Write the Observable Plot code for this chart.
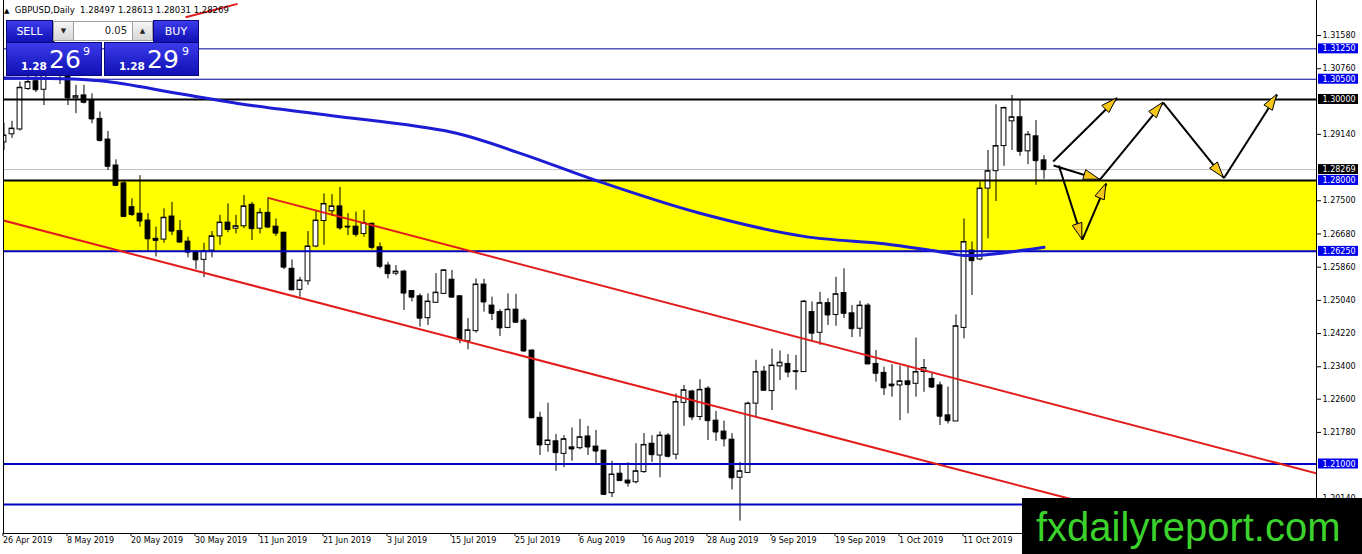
<!DOCTYPE html>
<html>
<head>
<meta charset="utf-8">
<script src="https://cdn.jsdelivr.net/npm/d3@7"></script>
<script src="https://cdn.jsdelivr.net/npm/@observablehq/plot@0.6"></script>
<style>
  body { margin: 0; background: #fff; font-family: "DejaVu Sans", sans-serif; }
  #wrap { position: relative; width: 1362px; height: 554px; overflow: hidden; }
  .abs { position: absolute; box-sizing: border-box; }
  .blue { background: linear-gradient(#3b3bec, #1010b4); color: #fff; border: 1px solid #08087a; }
  .spin { background: linear-gradient(#f6f6f6, #d6d6d6); border: 1px solid #a0a0a0; color: #222; font-size: 7px; text-align: center; line-height: 18px; }
  .lot { background: #fff; border: 1px solid #a0a0a0; color: #222; font-size: 10px; text-align: right; padding-right: 5px; line-height: 18px; }
  .btn { font-size: 11px; text-align: center; line-height: 21px; }
  .btn::after { content: ""; position: absolute; left: 4px; right: 4px; bottom: -1px; height: 1px; background: #9fa0ff; }
  .s { position: absolute; font-size: 10.5px; font-weight: 600; line-height: 10.5px; }
  .b { position: absolute; font-size: 25px; line-height: 25px; }
  .p { position: absolute; font-size: 11px; line-height: 11px; }
  #head { left: 4px; top: 6px; font-size: 8.5px; line-height: 8.5px; color: #000; white-space: nowrap; }
  #mark { left: 1022px; top: 498px; width: 340px; height: 56px; background: #000; }
  #mark span { position: absolute; left: 14px; top: 9px; font-family: "Liberation Sans", Arial, sans-serif; font-size: 40px; line-height: 40px; color: #3cd22c; }
</style>
</head>
<body>
<div id="wrap">
  <div id="chart"></div>
  <div id="head" class="abs"><span style="font-size:7px">▲</span>&nbsp; GBPUSD,Daily&nbsp; 1.28497 1.28613 1.28031 1.28269</div>
  <div class="abs blue btn" style="left:6px;top:20px;width:47px;height:23px">SELL</div>
  <div class="abs spin" style="left:53px;top:21px;width:21px;height:20px">▼</div>
  <div class="abs lot" style="left:73px;top:21px;width:60px;height:20px">0.05</div>
  <div class="abs spin" style="left:132px;top:21px;width:21px;height:20px">▲</div>
  <div class="abs blue btn" style="left:153px;top:20px;width:46px;height:23px">BUY</div>
  <div class="abs blue" style="left:6px;top:42px;width:96px;height:34px">
    <span class="s" style="left:14px;top:18px">1.28</span><span class="b" style="left:42px;top:4px">26</span><span class="p" style="left:76px;top:3px">9</span>
  </div>
  <div class="abs blue" style="left:104px;top:42px;width:95px;height:34px">
    <span class="s" style="left:14px;top:18px">1.28</span><span class="b" style="left:42px;top:4px">29</span><span class="p" style="left:77px;top:3px">9</span>
  </div>
  <div id="mark" class="abs"><span>fxdailyreport.com</span></div>
</div>
<script>
// bar index 0 = 26 Apr 2019, one bar per trading day
const tickIdx = [0, 8, 16, 24, 32, 40, 48, 56, 64, 72, 80, 88, 96, 104, 112, 120];
const dateLabels = ["26 Apr 2019", "8 May 2019", "20 May 2019", "30 May 2019", "11 Jun 2019", "21 Jun 2019",
  "3 Jul 2019", "15 Jul 2019", "25 Jul 2019", "6 Aug 2019", "16 Aug 2019", "28 Aug 2019", "9 Sep 2019",
  "19 Sep 2019", "1 Oct 2019", "11 Oct 2019"];

const opens = [
  1.2894, 1.2914, 1.2926, 1.3026, 1.3045, 1.3024, 1.3153, 1.3120, 1.3085, 1.3003,
  1.3010, 1.2996, 1.2952, 1.2901, 1.2837, 1.2793, 1.2734, 1.2718, 1.2701, 1.2656,
  1.2654, 1.2711, 1.2675, 1.2649, 1.2623, 1.2604, 1.2627, 1.2662, 1.2696, 1.2681,
  1.2687, 1.2740, 1.2681, 1.2720, 1.2686, 1.2671, 1.2582, 1.2530, 1.2551, 1.2637,
  1.2700, 1.2724, 1.2736, 1.2686, 1.2686, 1.2668, 1.2693, 1.2635, 1.2590, 1.2570,
  1.2575, 1.2527, 1.2514, 1.2460, 1.2498, 1.2520, 1.2555, 1.2514, 1.2403, 1.2428,
  1.2543, 1.2491, 1.2475, 1.2436, 1.2481, 1.2454, 1.2380, 1.2214, 1.2147, 1.2156,
  1.2125, 1.2141, 1.2139, 1.2168, 1.2143, 1.2133, 1.2028, 1.2076, 1.2059, 1.2055,
  1.2080, 1.2150, 1.2121, 1.2170, 1.2123, 1.2251, 1.2279, 1.2216, 1.2286, 1.2207,
  1.2180, 1.2160, 1.2066, 1.2078, 1.2249, 1.2328, 1.2280, 1.2341, 1.2347, 1.2329,
  1.2327, 1.2475, 1.2424, 1.2497, 1.2468, 1.2522, 1.2472, 1.2434, 1.2491, 1.2347,
  1.2325, 1.2296, 1.2294, 1.2304, 1.2298, 1.2327, 1.2310, 1.2294, 1.2220, 1.2205,
  1.2436, 1.2627, 1.2605, 1.2780, 1.2823, 1.2885, 1.2946, 1.2956, 1.2872, 1.2909,
  1.28497];
const highs = [
  1.2941, 1.2946, 1.3043, 1.3070, 1.3070, 1.3176, 1.3175, 1.3135, 1.3110, 1.3035,
  1.3035, 1.3014, 1.2969, 1.2921, 1.2851, 1.2798, 1.2755, 1.2812, 1.2718, 1.2685,
  1.2730, 1.2746, 1.2701, 1.2660, 1.2627, 1.2645, 1.2674, 1.2714, 1.2742, 1.2714,
  1.2763, 1.2746, 1.2730, 1.2757, 1.2705, 1.2672, 1.2604, 1.2561, 1.2674, 1.2726,
  1.2767, 1.2765, 1.2783, 1.2718, 1.2722, 1.2726, 1.2695, 1.2646, 1.2598, 1.2590,
  1.2578, 1.2527, 1.2520, 1.2520, 1.2570, 1.2580, 1.2578, 1.2516, 1.2459, 1.2557,
  1.2556, 1.2512, 1.2481, 1.2520, 1.2519, 1.2459, 1.2382, 1.2228, 1.2250, 1.2173,
  1.2170, 1.2189, 1.2210, 1.2193, 1.2183, 1.2133, 1.2107, 1.2099, 1.2103, 1.2150,
  1.2175, 1.2170, 1.2179, 1.2175, 1.2273, 1.2294, 1.2282, 1.2308, 1.2291, 1.2230,
  1.2206, 1.2175, 1.2104, 1.2253, 1.2356, 1.2341, 1.2384, 1.2379, 1.2370, 1.2368,
  1.2504, 1.2500, 1.2524, 1.2508, 1.2561, 1.2582, 1.2491, 1.2502, 1.2496, 1.2380,
  1.2339, 1.2345, 1.2342, 1.2342, 1.2411, 1.2358, 1.2323, 1.2302, 1.2290, 1.2468,
  1.2705, 1.2648, 1.2796, 1.2874, 1.2987, 1.2981, 1.3010, 1.2998, 1.2921, 1.2948,
  1.28613];
const lows = [
  1.2874, 1.2904, 1.2922, 1.3022, 1.3017, 1.2985, 1.3100, 1.3037, 1.2985, 1.2965,
  1.2989, 1.2940, 1.2895, 1.2825, 1.2785, 1.2709, 1.2711, 1.2685, 1.2623, 1.2611,
  1.2645, 1.2664, 1.2645, 1.2609, 1.2580, 1.2560, 1.2609, 1.2640, 1.2671, 1.2668,
  1.2681, 1.2652, 1.2668, 1.2681, 1.2662, 1.2580, 1.2528, 1.2512, 1.2541, 1.2634,
  1.2640, 1.2711, 1.2677, 1.2664, 1.2660, 1.2660, 1.2629, 1.2582, 1.2557, 1.2565,
  1.2479, 1.2500, 1.2438, 1.2442, 1.2498, 1.2519, 1.2510, 1.2397, 1.2382, 1.2423,
  1.2475, 1.2454, 1.2415, 1.2434, 1.2448, 1.2376, 1.2213, 1.2121, 1.2129, 1.2082,
  1.2091, 1.2107, 1.2135, 1.2121, 1.2096, 1.2022, 1.2017, 1.2058, 1.2043, 1.2051,
  1.2077, 1.2104, 1.2066, 1.2115, 1.2110, 1.2193, 1.2207, 1.2207, 1.2158, 1.2156,
  1.2142, 1.2036, 1.1959, 1.2077, 1.2216, 1.2280, 1.2232, 1.2306, 1.2313, 1.2282,
  1.2326, 1.2401, 1.2393, 1.2442, 1.2440, 1.2459, 1.2412, 1.2413, 1.2346, 1.2302,
  1.2269, 1.2265, 1.2207, 1.2224, 1.2265, 1.2277, 1.2286, 1.2195, 1.2199, 1.2205,
  1.2409, 1.2516, 1.2602, 1.2656, 1.2748, 1.2835, 1.2874, 1.2860, 1.2839, 1.2788,
  1.28031];
const closes = [
  1.2911, 1.2928, 1.3029, 1.3043, 1.3024, 1.3153, 1.3120, 1.3085, 1.3004, 1.3008,
  1.2993, 1.2952, 1.2899, 1.2835, 1.2788, 1.2711, 1.2716, 1.2700, 1.2656, 1.2652,
  1.2708, 1.2675, 1.2648, 1.2623, 1.2604, 1.2625, 1.2662, 1.2696, 1.2679, 1.2687,
  1.2736, 1.2681, 1.2720, 1.2685, 1.2670, 1.2586, 1.2530, 1.2553, 1.2637, 1.2701,
  1.2742, 1.2736, 1.2683, 1.2685, 1.2667, 1.2695, 1.2635, 1.2588, 1.2570, 1.2575,
  1.2522, 1.2512, 1.2460, 1.2501, 1.2523, 1.2578, 1.2512, 1.2407, 1.2430, 1.2543,
  1.2500, 1.2472, 1.2436, 1.2481, 1.2450, 1.2379, 1.2214, 1.2147, 1.2158, 1.2128,
  1.2161, 1.2137, 1.2166, 1.2142, 1.2132, 1.2025, 1.2074, 1.2059, 1.2053, 1.2082,
  1.2147, 1.2123, 1.2170, 1.2119, 1.2253, 1.2282, 1.2216, 1.2283, 1.2207, 1.2179,
  1.2162, 1.2066, 1.2082, 1.2249, 1.2327, 1.2282, 1.2343, 1.2350, 1.2327, 1.2328,
  1.2501, 1.2423, 1.2497, 1.2468, 1.2519, 1.2472, 1.2434, 1.2491, 1.2347, 1.2324,
  1.2288, 1.2293, 1.2304, 1.2296, 1.2327, 1.2337, 1.2290, 1.2218, 1.2207, 1.2440,
  1.2648, 1.2602, 1.2780, 1.2823, 1.2885, 1.2979, 1.2956, 1.2872, 1.2913, 1.2849,
  1.28269];

// moving average: [bar, price]
const maIdx =   [0, 12, 22, 31, 41, 56, 65, 74, 87, 100, 110, 116, 120, 123, 130];
const maPrice = [1.3053, 1.3046, 1.3014, 1.2985, 1.2960, 1.2919, 1.2864, 1.2800, 1.2719, 1.2662, 1.2644, 1.2627, 1.2615, 1.2617, 1.2635];

// horizontal levels
const thinBlueLevels = [1.3125, 1.3050];
const thickBlueLevels = [1.2625, 1.2100, 1.2000];
const blackLevels = [1.3000, 1.2800];
const zoneLow = 1.2625, zoneHigh = 1.2800;
const lastPrice = 1.28269;

// price axis ticks and tagged prices
const yTicks = [1.3158, 1.3076, 1.2914, 1.2750, 1.2668, 1.2586, 1.2504, 1.2422, 1.2340, 1.2260, 1.2178, 1.2014];
const blueTags = [1.3125, 1.3050, 1.2800, 1.2625, 1.2100];
const blackTags = [1.3000, 1.28269];

// red trend lines: [bar1, price1, bar2, price2]
const trendLines = [
  [-1, 1.2706, 136, 1.2000],
  [33, 1.2757, 165, 1.2072],
  [22.7, 1.3203, 29.2, 1.3236]
];
// projected path arrows: [bar1, price1, bar2, price2]
const arrowSegs = [
  [131.15, 1.2847, 139.15, 1.3003],
  [131.2, 1.2837, 137.0, 1.2802],
  [131.85, 1.2837, 134.8, 1.2654],
  [134.8, 1.2654, 137.8, 1.2792],
  [137.0, 1.2802, 144.9, 1.2992],
  [144.9, 1.2992, 152.5, 1.2806],
  [152.5, 1.2806, 159.15, 1.3012]
];

const candles = opens.map((o, i) => ({i, open: o, high: highs[i], low: lows[i], close: closes[i]}));
const ma = maIdx.map((i, k) => ({i, p: maPrice[k]}));
const seg = a => ({x1: a[0], y1: a[1], x2: a[2], y2: a[3]});
const trends = trendLines.map(seg);
const arrows = arrowSegs.map(seg);
const labelOf = new Map(tickIdx.map((t, k) => [t, dateLabels[k]]));

const xMin = -0.06, xMax = 164.06;
const yMin = 1.19284, yMax = 1.32444;
const hw = 0.3; // half body width in bars

const chart = Plot.plot({
  width: 1362,
  height: 554,
  marginLeft: 3,
  marginRight: 46,
  marginTop: 0,
  marginBottom: 21,
  style: {fontFamily: "DejaVu Sans", fontSize: "8px", color: "#000", background: "#fff"},
  x: {type: "linear", domain: [xMin, xMax], axis: null},
  y: {type: "linear", domain: [yMin, yMax], axis: null},
  marks: [
    Plot.rect([{lo: zoneLow, hi: zoneHigh}], {y1: "lo", y2: "hi", fill: "#ffff00"}),
    Plot.ruleY([lastPrice], {stroke: "#c0c0c0"}),

    // candles
    Plot.ruleX(candles, {x: "i", y1: "low", y2: "high", stroke: "#000", clip: true}),
    Plot.rect(candles, {filter: d => d.close >= d.open, x1: d => d.i - hw, x2: d => d.i + hw,
      y1: "open", y2: "close", fill: "#fff", stroke: "#000", clip: true}),
    Plot.rect(candles, {filter: d => d.close < d.open, x1: d => d.i - hw, x2: d => d.i + hw,
      y1: "open", y2: "close", fill: "#000", stroke: "#000", clip: true}),
    Plot.ruleY(candles, {y: "close", x1: d => d.i - hw, x2: d => d.i + hw, stroke: "#000", clip: true}),

    Plot.ruleY(thinBlueLevels, {stroke: "#00009c"}),
    Plot.ruleY(thickBlueLevels, {stroke: "#0000c4", strokeWidth: 2}),
    Plot.ruleY(blackLevels, {stroke: "#000", strokeWidth: 2}),

    Plot.line(ma, {x: "i", y: "p", stroke: "#1c1cd4", strokeWidth: 3, curve: "catmull-rom", clip: true}),
    Plot.link(trends, {x1: "x1", y1: "y1", x2: "x2", y2: "y2", stroke: "#e21b1b", strokeWidth: 2, clip: true}),
    Plot.link(arrows, {x1: "x1", y1: "y1", x2: "x2", y2: "y2", stroke: "#000", strokeWidth: 2}),

    // frame
    Plot.ruleX([xMin, xMax], {stroke: "#000"}),
    Plot.ruleY([yMin], {stroke: "#000"}),

    Plot.axisX(tickIdx, {anchor: "bottom", tickSize: 3, tickPadding: 1, textAnchor: "start", dx: -1,
      tickFormat: d => labelOf.get(d), fontSize: 8}),
    Plot.axisY(yTicks, {anchor: "right", tickSize: 4, tickPadding: 2, tickFormat: d => d.toFixed(5), fontSize: 8}),

    // price tags on the axis
    Plot.rect(blueTags, {x1: () => xMax, x2: () => xMax, y1: d => d, y2: d => d, fill: "#0000ee",
      insetLeft: 2, insetRight: -42, insetTop: -5, insetBottom: -5}),
    Plot.rect(blackTags, {x1: () => xMax, x2: () => xMax, y1: d => d, y2: d => d, fill: "#000",
      insetLeft: 2, insetRight: -42, insetTop: -5, insetBottom: -5}),
    Plot.text(blueTags.concat(blackTags), {x: () => xMax, y: d => d, text: d => d.toFixed(5), dx: 6,
      textAnchor: "start", fill: "#fff", fontSize: 8})
  ]
});

document.getElementById("chart").append(chart);

// yellow arrow heads at the end of each projected segment
const sx = chart.scale("x"), sy = chart.scale("y");
const heads = d3.select(chart).append("g");
arrows.forEach(a => {
  const x1 = sx.apply(a.x1), y1 = sy.apply(a.y1), x2 = sx.apply(a.x2), y2 = sy.apply(a.y2);
  const ang = Math.atan2(y2 - y1, x2 - x1);
  const c = Math.cos(ang), s = Math.sin(ang);
  const bx = x2 - 16 * c, by = y2 - 16 * s;
  const pts = [[x2, y2], [bx - 5 * s, by + 5 * c], [bx + 5 * s, by - 5 * c]];
  heads.append("polygon")
    .attr("points", pts.map(p => p.join(",")).join(" "))
    .attr("fill", "#f5c518")
    .attr("stroke", "#000")
    .attr("stroke-width", 1);
});
</script>
</body>
</html>
